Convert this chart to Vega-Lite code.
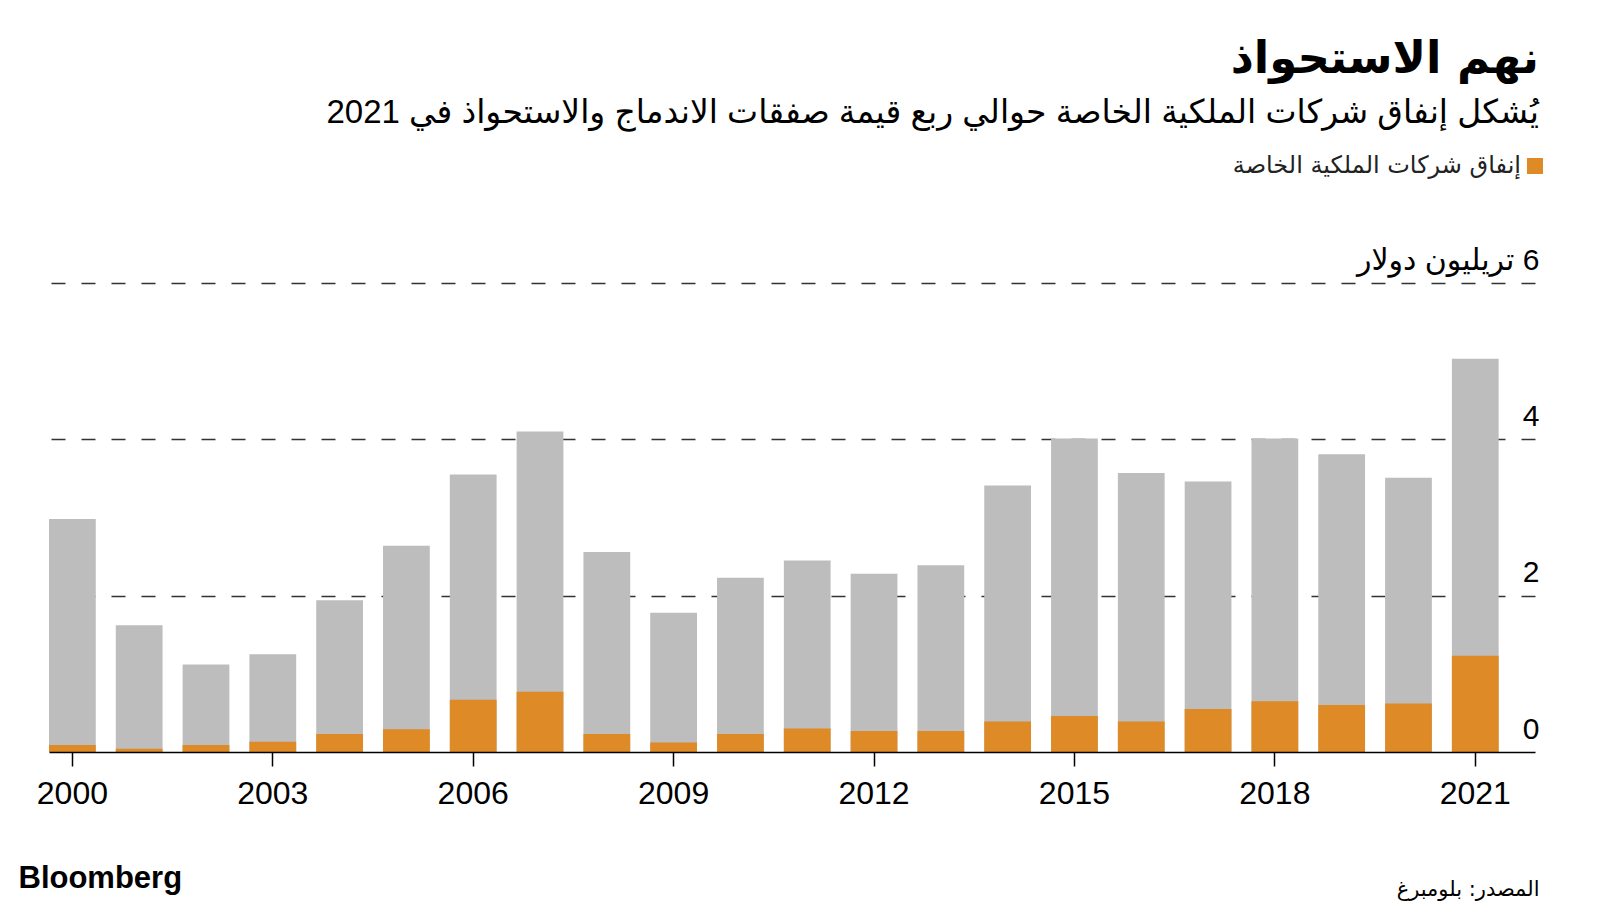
{
  "$schema": "https://vega.github.io/schema/vega-lite/v6.json",
  "width": 1486,
  "height": 469,
  "autosize": {"type": "none"},
  "padding": {"left": 49, "top": 283, "right": 65, "bottom": 167},
  "background": "#ffffff",
  "config": {"view": {"stroke": null}, "font": "Liberation Sans"},
  "title": {
    "text": "نهم الاستحواذ",
    "subtitle": "\u202Bيُشكل إنفاق شركات الملكية الخاصة حوالي ربع قيمة صفقات الاندماج والاستحواذ في 2021\u202C",
    "anchor": "end",
    "frame": "group",
    "font": "DejaVu Sans",
    "subtitleFont": "Liberation Sans, DejaVu Sans",
    "fontSize": 45,
    "fontWeight": "bold",
    "subtitleFontSize": 33,
    "color": "#000000",
    "subtitleColor": "#000000",
    "offset": 24,
    "dx": 4,
    "subtitlePadding": 15
  },
  "data": {
    "values": [
      {"year": 2000, "total": 2.98, "pe": 0.09},
      {"year": 2001, "total": 1.62, "pe": 0.04},
      {"year": 2002, "total": 1.12, "pe": 0.09},
      {"year": 2003, "total": 1.25, "pe": 0.13},
      {"year": 2004, "total": 1.94, "pe": 0.23},
      {"year": 2005, "total": 2.64, "pe": 0.29},
      {"year": 2006, "total": 3.55, "pe": 0.67},
      {"year": 2007, "total": 4.10, "pe": 0.77},
      {"year": 2008, "total": 2.56, "pe": 0.23},
      {"year": 2009, "total": 1.78, "pe": 0.12},
      {"year": 2010, "total": 2.23, "pe": 0.23},
      {"year": 2011, "total": 2.45, "pe": 0.30},
      {"year": 2012, "total": 2.28, "pe": 0.27},
      {"year": 2013, "total": 2.39, "pe": 0.27},
      {"year": 2014, "total": 3.41, "pe": 0.39},
      {"year": 2015, "total": 4.01, "pe": 0.46},
      {"year": 2016, "total": 3.57, "pe": 0.39},
      {"year": 2017, "total": 3.46, "pe": 0.55},
      {"year": 2018, "total": 4.01, "pe": 0.65},
      {"year": 2019, "total": 3.81, "pe": 0.60},
      {"year": 2020, "total": 3.51, "pe": 0.62},
      {"year": 2021, "total": 5.03, "pe": 1.23}
    ]
  },
  "encoding": {
    "x": {
      "field": "year",
      "type": "ordinal",
      "scale": {"paddingInner": 0.3, "paddingOuter": 0.272, "align": 0},
      "axis": {
        "values": [2000, 2003, 2006, 2009, 2012, 2015, 2018, 2021],
        "labelAngle": 0,
        "labelFontSize": 32,
        "labelColor": "#000000",
        "labelFont": "Liberation Sans",
        "labelPadding": 12,
        "tickSize": 14,
        "tickColor": "#000000",
        "tickWidth": 1.5,
        "domainColor": "#000000",
        "domainWidth": 1.5,
        "zindex": 1,
        "title": "المصدر: بلومبرغ",
        "titleFont": "DejaVu Sans",
        "titleFontSize": 21,
        "titleFontWeight": "normal",
        "titleColor": "#000000",
        "titleAnchor": "end",
        "titleAlign": "right",
        "titleBaseline": "alphabetic",
        "titleX": 1490,
        "titleY": 143
      }
    }
  },
  "layer": [
    {
      "mark": {"type": "bar", "color": "#bdbdbd"},
      "encoding": {
        "y": {
          "field": "total",
          "type": "quantitative",
          "scale": {"domain": [0, 6], "nice": false},
          "axis": {
            "orient": "right",
            "values": [0, 2, 4, 6],
            "format": "d",
            "grid": true,
            "gridDash": [14, 16],
            "gridColor": "#333333",
            "gridWidth": 1.5,
            "gridOpacity": {"condition": {"test": "datum.value == 0", "value": 0}, "value": 1},
            "domain": false,
            "ticks": false,
            "labelAlign": "right",
            "labelBaseline": "alphabetic",
            "labelPadding": 4,
            "labelOffset": -14,
            "labelFontSize": 30,
            "labelColor": "#000000",
            "labelFont": "Liberation Sans, DejaVu Sans",
            "labelOverlap": false,
            "labelLimit": 0,
            "labelExpr": "datum.value == 6 ? '\u202B6 تريليون دولار\u202C' : datum.label",
            "title": "Bloomberg",
            "titleAngle": 0,
            "titleFont": "Liberation Sans",
            "titleFontSize": 31,
            "titleFontWeight": "bold",
            "titleColor": "#000000",
            "titleAlign": "left",
            "titleBaseline": "alphabetic",
            "titleX": -1517,
            "titleY": 604
          }
        }
      }
    },
    {
      "mark": {"type": "bar"},
      "encoding": {
        "y": {"field": "pe", "type": "quantitative"},
        "color": {
          "datum": "إنفاق شركات الملكية الخاصة",
          "type": "nominal",
          "scale": {"range": ["#de8a26"]},
          "legend": {
            "orient": "none",
            "legendX": 1474,
            "legendY": -129,
            "title": null,
            "padding": 0,
            "symbolType": "square",
            "symbolSize": 256,
            "symbolStrokeWidth": 0,
            "symbolOpacity": 1,
            "labelFont": "DejaVu Sans",
            "labelFontSize": 24,
            "labelColor": "#222222",
            "labelAlign": "right",
            "labelOffset": -26,
            "labelLimit": 0
          }
        }
      }
    }
  ]
}
